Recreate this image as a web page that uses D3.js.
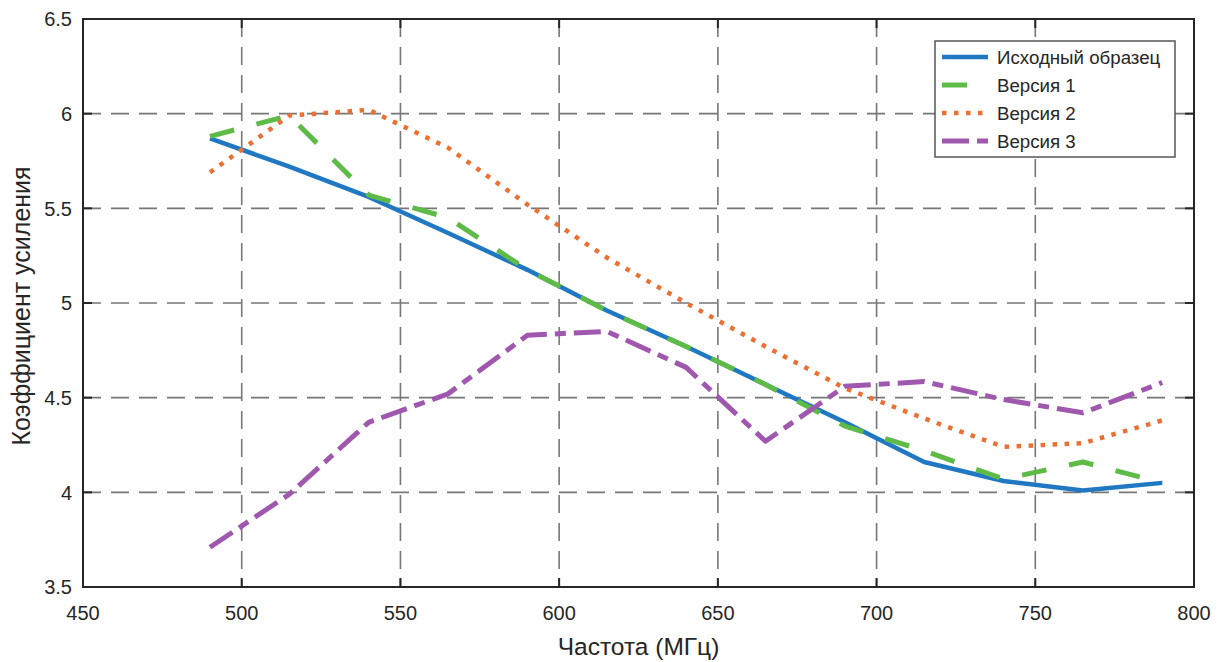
<!DOCTYPE html>
<html>
<head>
<meta charset="utf-8">
<script src="https://cdn.jsdelivr.net/npm/d3@7.9.0/dist/d3.min.js"></script>
<style>
  body { margin: 0; background: #fff; }
  svg { display: block; }
  text { font-family: "Liberation Sans", Arial, sans-serif; fill: #262626; }
</style>
</head>
<body>
<svg id="chart" width="1219" height="662"></svg>
<script>
// Frequencies (MHz) and gain values
const freqs    = [490, 515, 540, 565, 590, 615, 640, 665, 690, 715, 740, 765, 790];
const original = [5.87, 5.72, 5.56, 5.37, 5.175, 4.96, 4.77, 4.57, 4.37, 4.16, 4.06, 4.01, 4.05];
const version1 = [5.88, 5.99, 5.57, 5.45, 5.175, 4.96, 4.77, 4.57, 4.35, 4.22, 4.07, 4.16, 4.05];
const version2 = [5.69, 5.99, 6.02, 5.82, 5.52, 5.24, 5.00, 4.77, 4.55, 4.39, 4.24, 4.26, 4.38];
const version3 = [3.71, 3.99, 4.37, 4.52, 4.83, 4.85, 4.66, 4.27, 4.56, 4.585, 4.49, 4.42, 4.58];

const seriesNames = ["Исходный образец", "Версия 1", "Версия 2", "Версия 3"];
const xTicks = [450, 500, 550, 600, 650, 700, 750, 800];
const yTicks = [3.5, 4, 4.5, 5, 5.5, 6, 6.5];

const series = [
  { name: seriesNames[0], values: original, color: "#1f78c1", width: 4.5, dash: null },
  { name: seriesNames[1], values: version1, color: "#5fbb47", width: 5, dash: "25,23" },
  { name: seriesNames[2], values: version2, color: "#ea7033", width: 4.5, dash: "4.5,7.5" },
  { name: seriesNames[3], values: version3, color: "#9f58ad", width: 5, dash: "27,8,11,8" }
];

const svg = d3.select("#chart");
const mLeft = 83, mRight = 1194, mTop = 19, mBottom = 587;

const x = d3.scaleLinear().domain([450, 800]).range([mLeft, mRight]);
const y = d3.scaleLinear().domain([3.5, 6.5]).range([mBottom, mTop]);

// grid
const grid = svg.append("g")
  .attr("stroke", "#777")
  .attr("stroke-width", 1.6)
  .attr("stroke-dasharray", "18,10");

grid.selectAll(".vg")
  .data(xTicks.slice(1, -1))
  .enter().append("line")
  .attr("x1", d => x(d)).attr("x2", d => x(d))
  .attr("y1", mTop).attr("y2", mBottom);

grid.selectAll(".hg")
  .data(yTicks.slice(1, -1))
  .enter().append("line")
  .attr("x1", mLeft).attr("x2", mRight)
  .attr("y1", d => y(d)).attr("y2", d => y(d));

// data lines
const line = d3.line()
  .x((d, i) => x(freqs[i]))
  .y(d => y(d));

series.forEach(s => {
  svg.append("path")
    .datum(s.values)
    .attr("d", line)
    .attr("fill", "none")
    .attr("stroke", s.color)
    .attr("stroke-width", s.width)
    .attr("stroke-linejoin", "round")
    .attr("stroke-dasharray", s.dash);
});

// axes box + inward ticks
const box = svg.append("g").attr("stroke", "#262626").attr("stroke-width", 2);
box.append("rect")
  .attr("x", mLeft).attr("y", mTop)
  .attr("width", mRight - mLeft).attr("height", mBottom - mTop)
  .attr("fill", "none");

const tickLen = 9;
xTicks.forEach(t => {
  box.append("line").attr("x1", x(t)).attr("x2", x(t)).attr("y1", mBottom).attr("y2", mBottom - tickLen);
  box.append("line").attr("x1", x(t)).attr("x2", x(t)).attr("y1", mTop).attr("y2", mTop + tickLen);
});
yTicks.forEach(t => {
  box.append("line").attr("x1", mLeft).attr("x2", mLeft + tickLen).attr("y1", y(t)).attr("y2", y(t));
  box.append("line").attr("x1", mRight).attr("x2", mRight - tickLen).attr("y1", y(t)).attr("y2", y(t));
});

// tick labels
svg.selectAll(".xl")
  .data(xTicks)
  .enter().append("text")
  .attr("x", d => x(d))
  .attr("y", 620)
  .attr("text-anchor", "middle")
  .attr("font-size", 20)
  .text(d => d);

svg.selectAll(".yl")
  .data(yTicks)
  .enter().append("text")
  .attr("x", 72)
  .attr("y", d => y(d))
  .attr("dy", "0.36em")
  .attr("text-anchor", "end")
  .attr("font-size", 20)
  .text(d => d);

// axis titles
svg.append("text")
  .attr("x", (mLeft + mRight) / 2)
  .attr("y", 655)
  .attr("text-anchor", "middle")
  .attr("font-size", 24.5)
  .text("Частота (МГц)");

svg.append("text")
  .attr("transform", `translate(30,${(mTop + mBottom) / 2 + 3}) rotate(-90)`)
  .attr("text-anchor", "middle")
  .attr("font-size", 25)
  .text("Коэффициент усиления");

// legend
const legend = svg.append("g");
legend.append("rect")
  .attr("x", 935).attr("y", 41)
  .attr("width", 240).attr("height", 116)
  .attr("fill", "#fff")
  .attr("stroke", "#555")
  .attr("stroke-width", 1.5);

series.forEach((s, i) => {
  const ly = 57 + i * 28;
  legend.append("line")
    .attr("x1", 942).attr("x2", 988)
    .attr("y1", ly).attr("y2", ly)
    .attr("stroke", s.color)
    .attr("stroke-width", s.width)
    .attr("stroke-dasharray", s.dash);
  legend.append("text")
    .attr("x", 997).attr("y", ly)
    .attr("dy", "0.36em")
    .attr("font-size", 18.7)
    .text(s.name);
});
</script>
</body>
</html>
